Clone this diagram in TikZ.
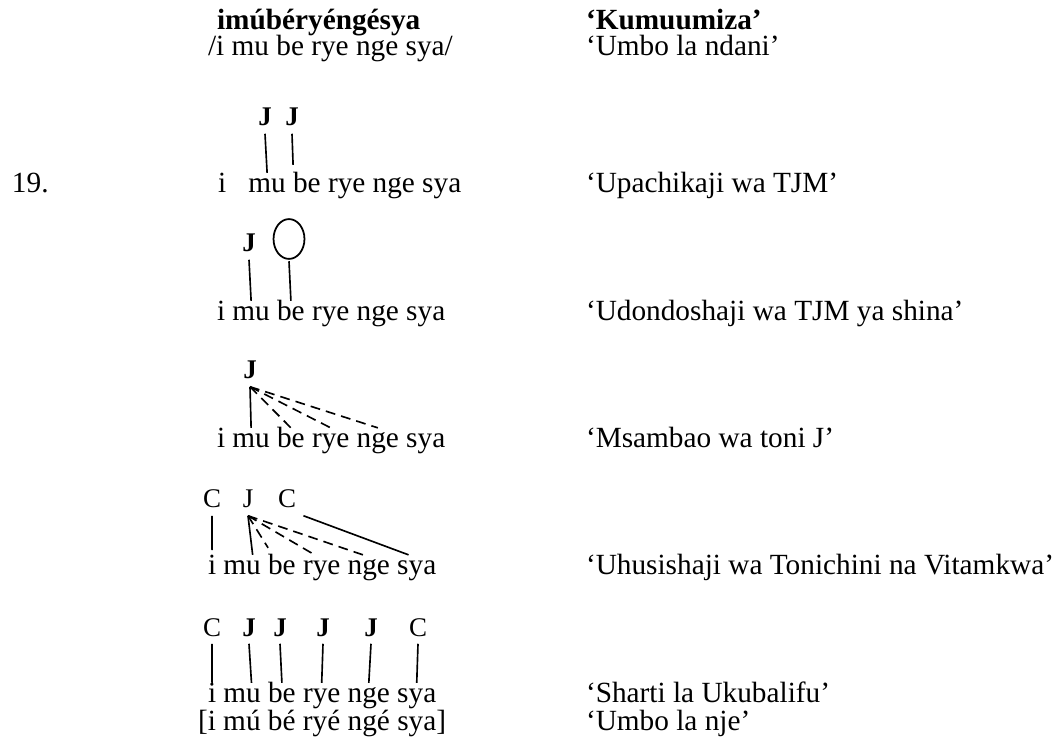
\documentclass[tikz,border=0pt]{standalone}
\usepackage{fontspec}
\setmainfont{Liberation Serif}
\usetikzlibrary{positioning,shapes.geometric}

\begin{document}
\begin{tikzpicture}[x=0.015cm,y=-0.015cm,node distance=3.1pt]
\tikzstyle{every node}+=[inner sep=0pt,outer sep=0pt,font=\fontsize{12.5}{15}\selectfont]
\tikzstyle{txt}=[anchor=base west]
\tikzstyle{syl}=[text height=8.6pt,text depth=0pt]
\tikzstyle{tone}=[anchor=base,inner sep=3.2pt,font=\fontsize{11.5}{13}\selectfont\bfseries]
\tikzstyle{tonec}=[anchor=base,inner sep=3.2pt,font=\fontsize{11.5}{13}\selectfont]
\tikzstyle{assoc}=[black,line width=0.7pt]
\tikzstyle{spread}=[assoc,dash pattern=on 4.2pt off 2.6pt]
\useasboundingbox (0,0) rectangle (1060,744);

\node[txt,font=\fontsize{12.5}{15}\selectfont\bfseries] (word) at (217,30) {imúbéryéngésya};
\node[txt] (under) at (208,56) {/i mu be rye nge sya/};
\node[txt,font=\fontsize{12.5}{15}\selectfont\bfseries] (gloss) at (586,30) {‘Kumuumiza’};
\node[txt] (glunder) at (586,56) {‘Umbo la ndani’};
\node[txt] (num) at (12,193) {19.};

\node[syl,anchor=base west] (ai) at (218,193) {i};
\node[syl,base right=9.5pt of ai] (amu) {mu};
\foreach \s [remember=\s as \p (initially mu)] in {be,rye,nge,sya}
  \node[syl,base right=of a\p] (a\s) {\s};
\node[tone] (aJa) at (265,126) {J};
\node[tone] (aJb) at (292,126) {J};
\draw[assoc] (aJa.south) -- (amu.north);
\draw[assoc] (aJb.south) -- ([yshift=3.4pt]abe.north west);
\node[txt] (glA) at (586,193) {‘Upachikaji wa TJM’};

\node[syl,anchor=base west] (bi) at (217,321) {i};
\foreach \s [remember=\s as \p (initially i)] in {mu,be,rye,nge,sya}
  \node[syl,base right=of b\p] (b\s) {\s};
\node[tone] (bJ) at (249,252) {J};
\node[draw,ellipse,line width=0.75pt,minimum width=13.2pt,minimum height=17pt] (bO) at (289,239) {};
\draw[assoc] (bJ.south) -- (bmu.north);
\draw[assoc] ([yshift=-1pt]bO.south) -- (bbe.north);
\node[txt] (glB) at (586,321) {‘Udondoshaji wa TJM ya shina’};

\node[syl,anchor=base west] (ci) at (217,448) {i};
\foreach \s [remember=\s as \p (initially i)] in {mu,be,rye,nge,sya}
  \node[syl,base right=of c\p] (c\s) {\s};
\node[tone] (cJ) at (250,379) {J};
\draw[assoc] (cJ.south) -- (cmu.north);
\foreach \s in {be,rye,nge}
  \draw[spread] (cJ.south) -- (c\s.north);
\node[txt] (glC) at (586,448) {‘Msambao wa toni J’};

\node[syl,anchor=base west] (di) at (208,575) {i};
\foreach \s [remember=\s as \p (initially i)] in {mu,be,rye,nge,sya}
  \node[syl,base right=of d\p] (d\s) {\s};
\node[tonec] (dCa) at (212,508) {C};
\node[tonec] (dJ) at (248,508) {J};
\node[tonec] (dCb) at (287,508) {C};
\draw[assoc] (dCa.south) -- ([yshift=2pt]di.north);
\draw[assoc] (dJ.south) -- ([xshift=4.5pt]dmu.north);
\draw[spread] (dJ.south) -- ([yshift=3pt]dbe.north west);
\draw[spread] (dJ.south) -- ([xshift=-3pt]drye.north);
\draw[spread] (dJ.south) -- ([xshift=-2.5pt]dnge.north);
\draw[assoc] (dCb.south east) -- ([xshift=-3.5pt]dsya.north);
\node[txt] (glD) at (586,575) {‘Uhusishaji wa Tonichini na Vitamkwa’};

\node[syl,anchor=base west] (ei) at (208,703) {i};
\foreach \s [remember=\s as \p (initially i)] in {mu,be,rye,nge,sya}
  \node[syl,base right=of e\p] (e\s) {\s};
\node[tonec] (eCa) at (212,636) {C};
\node[tone] (eJa) at (249,636) {J};
\node[tone] (eJb) at (280,636) {J};
\node[tone] (eJc) at (323,636) {J};
\node[tone] (eJd) at (371,636) {J};
\node[tonec] (eCb) at (418,636) {C};
\draw[assoc] (eJa.south) -- ([xshift=4pt]emu.north);
\foreach \t/\s in {eCa/ei,eJb/ebe,eJc/erye,eJd/enge,eCb/esya}
  \draw[assoc] (\t.south) -- (\s.north);
\node[txt] (surface) at (198,730) {[i mú bé ryé ngé sya]};
\node[txt] (glE) at (586,703) {‘Sharti la Ukubalifu’};
\node[txt] (glF) at (586,730) {‘Umbo la nje’};
\end{tikzpicture}
\end{document}
